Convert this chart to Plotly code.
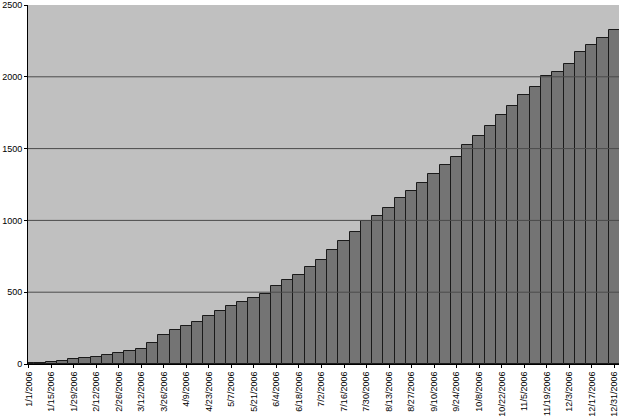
import pandas as pd
import plotly.graph_objects as go

# weekly cumulative totals (one value per Sunday of 2006)
weeks = pd.date_range("2006-01-01", "2006-12-31", freq="7D")
totals = [
    5, 9, 16, 23, 32, 40, 51, 64, 79, 88,
    106, 145, 202, 236, 265, 294, 334, 372, 405, 430,
    460, 490, 545, 585, 620, 675, 727, 795, 860, 918,
    998, 1033, 1085, 1155, 1203, 1261, 1323, 1383, 1445, 1525,
    1585, 1660, 1735, 1795, 1870, 1930, 2005, 2036, 2090, 2175,
    2220, 2270, 2325,
]
y_ticks = [0, 500, 1000, 1500, 2000, 2500]

DAY_MS = 86400000

fig = go.Figure()

fig.add_trace(
    go.Bar(
        x=weeks,
        y=totals,
        width=7 * DAY_MS,
        marker=dict(color="#747474", line=dict(color="#1a1a1a", width=1)),
        showlegend=False,
    )
)

# gridlines drawn over the bars, as in the original
for v in y_ticks[1:-1]:
    fig.add_shape(
        type="line", xref="paper", yref="y",
        x0=0, x1=1, y0=v, y1=v,
        line=dict(color="#4a4a4a", width=1),
        layer="above",
    )

fig.update_layout(
    width=620,
    height=416,
    margin=dict(l=28, r=1, t=5, b=52),
    paper_bgcolor="white",
    plot_bgcolor="#c0c0c0",
    bargap=0,
    font=dict(family="Liberation Sans, Arial", size=9, color="black"),
)

fig.update_xaxes(
    type="date",
    range=[pd.Timestamp("2005-12-31 12:00"), pd.Timestamp("2007-01-03")],
    tick0="2006-01-01",
    dtick=14 * DAY_MS,
    tickformat="%-m/%-d/%Y",
    tickangle=-90,
    ticks="outside",
    ticklen=3,
    tickcolor="black",
    showgrid=False,
    showline=True,
    linecolor="black",
    linewidth=1,
    automargin=False,
    layer="above traces",
)

fig.update_yaxes(
    range=[0, 2500],
    tickvals=y_ticks,
    ticks="outside",
    ticklen=3,
    tickcolor="black",
    showgrid=False,
    showline=True,
    linecolor="black",
    linewidth=1,
    zeroline=False,
    automargin=False,
    layer="above traces",
)

# the page's default body margin would push the figure off the window
fig.write_html(
    "out.html",
    config={"displayModeBar": False},
    post_script="document.body.style.margin='0';",
)
